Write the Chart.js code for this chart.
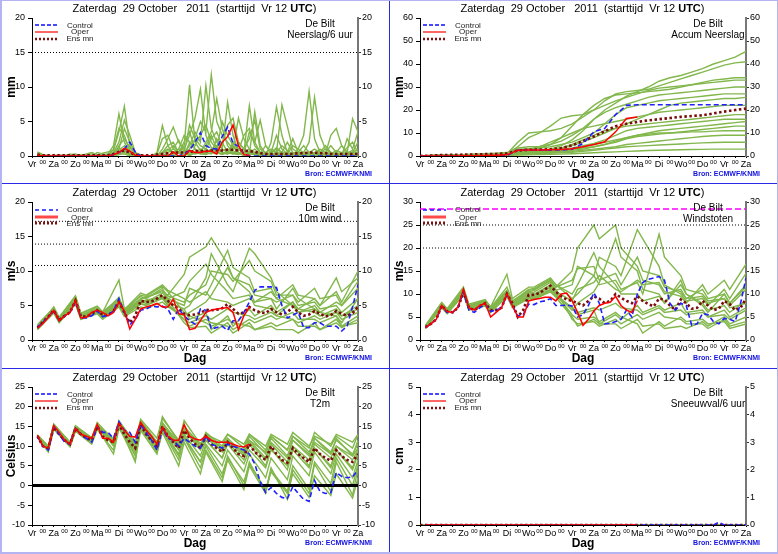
<!DOCTYPE html>
<html>
<head>
<meta charset="utf-8">
<script src="https://cdn.jsdelivr.net/npm/chart.js@4.4.0/dist/chart.umd.min.js"></script>
<style>
  body { margin: 0; background: #fff; }
  #frame { position: relative; width: 778px; height: 554px; overflow: hidden; font-family: "Liberation Sans", Arial, sans-serif; }
  .panel { position: absolute; width: 389px; height: 184px; }
  .panel canvas { position: absolute; left: 0; top: 0; }
  .ttl { position: absolute; left: 0; top: 2px; width: 389px; text-align: center; font-size: 11px; line-height: 13px; white-space: pre; color: #000; }
  .place { position: absolute; left: 270px; top: 18px; width: 100px; text-align: center; font-size: 10px; line-height: 11px; color: #000; white-space: nowrap; }
  .bron { position: absolute; left: 290px; top: 170px; width: 82px; text-align: right; font-size: 7px; line-height: 8px; font-weight: bold; color: #1010e0; white-space: nowrap; }
  .lgtxt { position: absolute; left: 60px; width: 40px; text-align: center; font-size: 8px; line-height: 9px; color: #222; white-space: nowrap; }
  .lgline { position: absolute; left: 35px; }
  .vline { position: absolute; top: 0; width: 1px; height: 554px; background: #2a2ae6; }
  .hline { position: absolute; left: 0; width: 778px; height: 1px; background: #2a2ae6; }
  #border { position: absolute; left: 0; top: 0; width: 778px; height: 554px; box-sizing: border-box; border: 1px solid #b4b4f2; border-left-width: 2px; border-bottom-width: 2px; }
</style>
</head>
<body>
<div id="frame"></div>
<script>
// ---- axis / categories ----
const titleText = 'Zaterdag  29 October   2011  (starttijd  Vr 12 <b>UTC</b>)';
const dayLabels = ['Vr', 'Za', 'Zo', 'Ma', 'Di', 'Wo', 'Do', 'Vr', 'Za', 'Zo', 'Ma', 'Di', 'Wo', 'Do', 'Vr', 'Za'];
const xTickLabels = [];
dayLabels.forEach((d, i) => {
  xTickLabels.push(d);
  if (i < dayLabels.length - 1) xTickLabels.push('00');
});

// forecast hours (start Vr 12 UTC)
const hours6 = [6,12,18,24,30,36,42,48,54,60,66,72,78,84,90,96,102,108,114,120,126,132,138,144,150,156,162,168,174,180,186,192,198,204,210,216,222,228,234,240,246,252,258,264,270,276,282,288,294,300,306,312,318,324,330,336,342,348,354,360];
const hours12 = [0,12,24,36,48,60,72,84,96,108,120,132,144,156,168,180,192,204,216,228,240,252,264,276,288,300,312,324,336,348,360];
const tempMemberHours = [6,18,24,42,48,66,72,90,96,114,120,138,144,162,168,186,192,210,216,234,240,258,264,282,288,306,312,330,336,354,360];
const windMemberHours = [6,24,30,48,54,72,78,96,102,120,126,144,150,168,174,192,198,216,222,240,246,264,270,288,294,312,318,336,342,360];

// ---- Neerslag / 6 uur (mm) ----
const precipControl = [0,0,0,0,0,0,0,0,0,0, 0,0,0,0,0.2,0.5,1.0,2.0,0.6,0, 0,0,0,0,0,0,0,0.3,0.8,2.0, 3.4,1.5,1.1,1.0,2.8,4.2,1.8,1.4,0.3,0, 0,0,0,0,0,0,0,0,0,0, 0,0,0,0,0,0,0,0,0,0];
const precipOper = [0.1,0,0,0,0,0,0,0,0,0, 0,0,0,0,0.2,0.5,1.1,0.7,0.1,0, 0,0,0,0,0,0.6,0,0,0.8,0.5, 0.5,0.7,0.7,0.3,2.0,2.8,4.5,1.5,0.2,0.1];
const precipMean = [0.2,0.1,0.1,0.1,0.1,0.1,0.1,0.1,0.1,0.1, 0.1,0.1,0.1,0.1,0.3,0.6,0.8,0.5,0.2,0.1, 0.1,0.1,0.2,0.3,0.4,0.5,0.5,0.5,0.6,0.7, 0.7,0.7,0.8,0.8,0.8,0.9,0.9,0.8,0.8,0.7, 0.6,0.4,0.3,0.3,0.3,0.3,0.3,0.3,0.4,0.4, 0.5,0.5,0.4,0.4,0.3,0.3,0.3,0.3,0.3,0.3];
const precipMembers = [
  [0.6,0.2,0,0,0,0.1,0,0,0,0, 0,0,0.2,0.3,1.5,6.1,2.0,0.5,0,0, 0,0,0.5,4.4,1.5,0.3,0.5,1.5,10.3,2.0, 0.8,1.5,3.0,1.0,0.5,0.3,0.8,2.0,1.0,0.5, 0.3,0,0,0.5,1.2,0.5,0,0,0.3,0.5, 0.2,0,0,0,0.3,0.8,0.5,0.2,0,0],
  [0.3,0,0,0.1,0,0,0,0,0.2,0, 0,0,0.4,0.6,0.8,3.5,7.2,1.5,0.3,0, 0,0,0,1.0,2.5,4.2,2.0,1.0,3.0,5.5, 9.7,3.0,1.2,0.8,2.0,0.5,0.5,1.0,0.5,7.3, 2.0,0.5,0.3,0,0.5,1.5,0.8,0.3,0,0, 0.5,1.0,0.5,0,0,0,0.3,1.2,2.0,0.5],
  [0,0,0.1,0,0,0,0.3,0,0,0, 0,0,0,0,0.5,2.0,5.2,3.0,0.5,0.2, 0,0,0,0,0.5,1.0,2.3,0.5,1.5,3.5, 2.0,10.2,4.0,2.0,1.0,7.8,3.0,0.5,0,0.2, 6.4,1.5,0.3,0,0,0.5,2.0,0.5,0.3,0, 0,0,0.5,1.5,0.5,0.3,0,0,0.2,0],
  [0.4,0,0,0,0.2,0,0,0,0,0.2, 0.3,0,0,0,1.0,4.0,3.0,0.8,0,0, 0,0,0,0.5,1.5,2.0,0.5,0.5,4.5,2.5, 5.0,3.5,11.8,5.0,3.0,2.0,1.0,5.5,2.5,1.0, 0.5,0.2,0,2.0,7.1,3.0,0.5,0,0,0.3, 0.5,0.2,0,0,0,0.5,1.5,0.5,0.3,0.2],
  [0,0,0,0,0,0,0,0.2,0,0, 0,0.5,0.3,0,0.2,1.5,2.5,1.2,0.3,0, 0,0,0,0,0,0.5,1.0,3.0,2.0,1.0, 0.5,2.0,3.5,8.3,4.0,1.5,0.5,0.3,1.0,2.5, 5.2,1.0,0.5,0.2,0.5,7.4,4.3,1.0,0.5,0.2, 0.3,0.5,0.3,0,0,0,0,0.5,5.4,3.5],
  [0.2,0,0,0,0,0,0,0,0,0, 0,0,0,0.2,0.5,1.0,4.0,2.0,0.5,0, 0,0,0.3,2.5,3.0,1.0,0.5,0,2.0,1.5, 3.0,4.5,2.0,1.0,5.0,3.0,1.5,0.5,0.3,0.5, 1.0,0.3,0,0,0.5,0.3,0.2,0,1.0,3.0, 9.4,2.5,0.5,0.2,0,0,0.3,0.2,0.5,1.0],
  [0,0.2,0,0,0,0,0,0,0,0, 0,0,0,0,0.3,0.8,1.5,0.5,0,0, 0,0,0,0.5,1.0,0.5,0,0.5,1.0,2.5, 1.5,1.0,2.5,3.5,1.5,4.5,5.5,2.0,1.0,0.5, 0.3,0,0.5,1.0,0.5,0.3,0,0.5,0.3,0.5, 2.0,8.5,3.0,1.0,0.5,0.3,0,0,0.5,0.2],
  [0.3,0,0,0,0,0,0,0,0,0, 0,0,0,0,0,0.5,1.0,0.3,0,0, 0,0,0,0,0,0,0.5,2.0,3.5,1.0, 0.5,0.3,1.0,0.5,0.3,0.5,1.5,0.5,0.3,3.5, 2.0,5.2,1.5,0.5,0,0,0,0.5,0.3,0.5, 0.3,0.2,0.5,0.3,3.0,4.0,1.5,0.5,0.3,0.5],
  [0,0,0,0,0,0,0.2,0.3,0,0, 0,0,0,0.3,0.5,1.2,0.8,0.3,0,0, 0,0,0,0,0,0.3,1.0,0.5,0,0.5, 1.0,0.5,0.3,2.5,1.0,0.5,0.3,0.8,3.0,4.0, 1.5,0.5,0.2,0.5,1.0,0.5,0.3,1.5,1.0,0.5, 0,0,0.5,1.0,0.5,0,0,2.5,1.0,3.5],
  [0.5,0,0,0,0,0,0,0,0,0, 0,0,0,0,0.3,0.5,0.8,0.5,0,0, 0,0,0,0,0.3,0,0,0.3,0.5,0.3, 0.5,1.0,0.5,0.3,0.8,1.0,0.5,0.3,0.5,1.0, 0.5,0.3,1.5,0.5,0,0.3,0.5,2.5,0.5,0.3, 0.5,0.3,0,0.3,0.5,0.3,0.5,0.3,0.5,2.0],
  [0,0,0,0,0,0,0,0,0,0, 0,0,0,0,0,0.3,0.5,0.2,0,0, 0,0,0,0,0,0,0,0,0.5,1.0, 0.3,0.5,1.0,0.5,0.2,0.5,0.3,0.2,0.5,0.3, 0.2,0.5,0.3,0.5,3.0,1.0,0.3,0,0,0.2, 0.5,0.3,0.2,0.5,1.5,0.5,0.2,0.3,0.2,0.5],
  [0.2,0,0,0,0,0,0,0,0,0.3, 0.5,0.2,0,0,0,0.2,0.3,0,0,0, 0,0,0,0.3,0.8,1.5,0.5,0.3,0.2,0.5, 0.3,0.2,0.5,1.5,0.5,0.3,2.0,1.0,0.5,0.3, 0.2,0.3,0.2,0.3,0.5,0.3,0.2,0.3,0.5,1.5, 0.5,0.3,1.0,0.5,0.3,0.2,0.3,0.5,0.8,0.3]
];

// ---- Accum neerslag (mm), 12-hourly ----
const accumControl = [0,0,0,0,0,0,0,0,0.2,2.5,2.6,2.6,2.6,2.6,3.0,5.5,10.5,12.0,18.0,22.0,22.3,22.3,22.3,22.3,22.3,22.3,22.3,22.3,22.3,22.3,22.3];
const accumOper = [0,0,0,0,0.1,0.1,0.2,0.3,0.5,2.5,2.6,2.6,2.7,2.8,3.2,4.0,5.0,6.2,10.5,16.3,17.0];
const accumMean = [0,0.2,0.4,0.5,0.6,0.7,0.8,0.9,1.1,2.4,2.7,2.8,2.9,3.5,4.6,6.5,8.5,10.8,12.9,14.0,14.8,15.5,16.0,16.5,17.0,17.4,17.7,18.5,19.3,20.0,20.6];
const accumMembers = [
  [0,0.2,0.3,0.5,0.6,0.8,1.0,1.2,1.5,3.5,4.0,4.2,5.0,6.5,9.0,12.0,16.0,20.0,23.0,26.0,28.0,30.0,32.5,34.0,35.0,36.5,38.0,40.0,41.5,43.0,45.5],
  [0,0.1,0.2,0.3,0.4,0.5,0.7,0.9,1.2,4.0,8.0,10.0,13.0,16.5,17.5,18.0,20.0,24.0,27.0,28.0,28.5,29.0,30.5,32.0,33.5,35.0,36.5,38.0,39.5,40.5,41.0],
  [0,0.2,0.4,0.5,0.6,0.8,0.9,1.0,1.2,2.5,3.0,3.5,5.0,8.0,13.0,18.0,22.0,25.0,26.5,27.0,27.5,28.0,28.5,29.0,30.0,31.0,32.0,33.0,33.5,34.0,34.0],
  [0,0.1,0.2,0.3,0.4,0.5,0.6,0.8,1.0,6.0,10.0,10.5,11.0,12.0,14.0,17.0,20.0,22.0,24.0,25.5,27.0,28.5,29.5,30.0,30.5,31.0,31.5,32.0,32.5,33.0,33.0],
  [0,0.1,0.2,0.3,0.4,0.5,0.7,0.8,1.0,2.0,2.3,2.5,3.0,4.5,7.0,11.0,16.0,19.0,21.0,22.5,24.0,25.5,26.5,27.0,27.5,28.0,28.5,29.0,29.5,30.0,30.0],
  [0,0.2,0.3,0.4,0.5,0.6,0.7,0.9,1.1,3.0,3.2,3.5,4.0,5.0,6.0,8.0,10.0,14.0,18.0,21.0,22.0,23.0,24.0,24.5,25.0,25.5,26.0,26.5,27.0,27.0,27.0],
  [0,0.1,0.2,0.3,0.4,0.5,0.6,0.7,0.8,2.0,2.2,2.5,3.0,3.5,4.5,6.0,8.0,10.0,12.0,14.0,16.0,18.0,20.0,22.0,23.0,23.5,24.0,24.5,25.0,25.0,25.5],
  [0,0.1,0.2,0.3,0.3,0.4,0.5,0.6,0.8,2.5,3.0,4.0,6.0,8.0,10.0,12.0,13.0,14.0,15.0,16.0,17.0,18.0,19.0,19.5,20.0,20.5,21.0,21.5,22.0,22.0,22.0],
  [0,0.1,0.2,0.2,0.3,0.4,0.5,0.6,0.7,1.5,1.8,2.0,2.5,3.5,5.0,7.0,9.0,11.0,12.0,13.0,13.5,14.0,14.5,15.0,15.5,16.0,16.5,17.0,17.5,18.0,18.0],
  [0,0.1,0.1,0.2,0.3,0.3,0.4,0.5,0.6,1.8,2.0,2.2,2.5,3.0,3.5,4.5,5.5,7.0,9.0,11.0,12.0,12.5,13.0,13.5,14.0,14.5,15.0,15.5,16.0,16.0,16.0],
  [0,0.1,0.2,0.2,0.3,0.4,0.5,0.5,0.6,1.2,1.4,1.6,2.0,2.5,3.0,4.0,5.0,6.0,7.0,8.0,9.0,10.0,11.0,11.5,12.0,12.5,13.0,13.5,14.0,14.5,15.0],
  [0,0.1,0.1,0.2,0.2,0.3,0.4,0.5,0.5,1.0,1.2,1.5,1.8,2.0,2.5,3.0,4.0,5.0,6.0,7.5,8.5,9.0,9.5,10.0,10.5,11.0,11.5,12.0,12.5,13.0,13.0],
  [0,0.1,0.1,0.2,0.2,0.3,0.3,0.4,0.5,1.5,1.8,2.0,2.2,2.5,3.0,3.5,4.0,5.0,6.5,8.0,9.0,9.5,10.0,10.0,10.2,10.5,10.5,10.8,11.0,11.0,11.0],
  [0,0.1,0.1,0.1,0.2,0.2,0.3,0.3,0.4,0.8,1.0,1.2,1.5,1.8,2.0,2.5,3.0,3.5,4.0,5.0,5.5,6.0,6.5,7.0,7.5,8.0,8.5,8.8,9.0,9.0,9.0],
  [0,0,0.1,0.1,0.1,0.2,0.2,0.3,0.3,0.6,0.8,1.0,1.2,1.4,1.6,2.0,2.5,3.0,3.5,4.0,4.3,4.5,4.8,5.0,5.2,5.5,5.7,5.9,6.0,6.0,6.0],
  [0,0,0.1,0.1,0.1,0.1,0.2,0.2,0.2,0.4,0.5,0.6,0.7,0.8,1.0,1.2,1.4,1.6,1.8,2.0,2.2,2.4,2.5,2.6,2.7,2.8,2.9,3.0,3.0,3.0,3.0]
];

// ---- 10m wind (m/s) ----
const windControl = [1.8,2.6,3.3,4.3,2.8,3.5,4.0,5.6,3.2,3.2, 3.5,4.2,3.4,3.6,4.2,6.0,4.0,2.2,3.0,4.3, 4.5,4.9,4.8,4.9,4.5,3.0,4.5,3.5,2.8,2.3, 4.5,4.3,1.6,1.8,2.0,1.4,2.8,2.8,4.0,5.5, 7.2,7.7,7.7,7.7,7.6,5.0,3.2,3.6,4.0,1.8, 1.8,2.5,2.5,2.0,2.0,2.0,1.3,2.0,4.8,8.0];
const windOper = [1.7,2.4,3.3,4.3,2.8,3.5,4.0,5.7,3.2,3.3, 4.0,4.3,4.0,3.5,4.0,5.5,4.2,1.6,3.0,4.5, 4.8,5.0,5.3,4.8,4.8,5.9,3.8,3.7,1.5,1.7, 2.8,4.0,4.3,4.5,4.6,4.7,4.0,1.5,3.5,4.8];
const windMean = [1.8,2.6,3.4,4.3,2.9,3.5,4.0,5.7,3.4,3.4, 3.8,4.3,3.6,3.6,4.2,5.5,4.0,2.5,3.5,5.7, 5.5,5.6,6.0,6.5,5.7,5.0,4.5,3.8,3.6,3.7, 3.9,4.4,4.3,4.4,4.6,5.2,4.5,3.8,4.0,4.8, 4.3,4.0,3.9,4.5,4.0,3.7,4.0,4.8,4.0,3.5, 3.7,4.2,3.8,3.4,3.6,4.2,3.8,3.5,3.9,4.8];
const windLevels = [10.8, 13.9, 17.2];
const windMembers = [
  [1.8, 4.5,3.0, 6.0,3.5, 4.5,3.8, 6.2,4.2, 6.0,6.2, 7.0,6.5, 9.5,12.0, 13.5,14.8, 11.0,9.0, 8.0,6.5, 6.0,5.5, 6.5,5.0, 5.5,4.5, 5.0,4.0, 6.0],
  [2.0, 4.0,2.7, 5.5,3.2, 4.0,3.2, 5.0,3.8, 5.5,5.8, 6.2,5.5, 4.5,5.0, 9.0,12.5, 8.0,7.0, 13.3,12.5, 9.0,7.0, 5.0,4.0, 4.5,4.0, 5.5,5.0, 7.5],
  [1.6, 4.8,3.2, 6.3,3.8, 4.8,4.0, 8.7,4.5, 6.3,6.0, 7.5,6.0, 5.0,7.5, 6.5,8.0, 13.0,10.5, 9.0,7.0, 7.5,6.0, 5.0,4.5, 6.0,5.0, 7.0,5.5, 10.0],
  [1.9, 4.2,2.6, 5.3,3.0, 4.2,3.4, 5.3,3.5, 5.2,5.0, 6.0,5.0, 3.0,2.5, 3.5,3.0, 4.5,4.0, 3.5,3.0, 4.0,3.5, 3.0,2.5, 3.5,3.0, 4.0,3.5, 5.0],
  [1.7, 4.3,2.9, 5.8,3.3, 4.4,3.6, 5.6,4.0, 5.8,5.5, 6.8,6.0, 7.0,8.5, 11.0,9.5, 7.0,6.0, 6.5,5.0, 4.5,3.5, 5.5,4.5, 4.0,3.5, 4.5,3.5, 4.5],
  [2.1, 4.6,3.1, 6.2,3.6, 4.6,3.8, 5.8,4.2, 6.5,6.3, 7.8,7.0, 4.0,3.5, 2.5,2.0, 3.0,2.5, 2.0,1.5, 2.5,2.0, 3.0,2.0, 2.0,1.5, 2.5,1.8, 3.0],
  [1.5, 3.9,2.5, 5.2,3.0, 3.8,3.0, 4.8,3.4, 4.8,4.6, 5.5,4.8, 3.5,4.0, 5.5,6.5, 10.5,9.0, 7.0,5.5, 6.0,4.5, 7.5,6.0, 4.5,3.5, 4.0,3.0, 4.0],
  [1.8, 4.4,2.8, 5.9,3.4, 4.3,3.5, 5.4,3.9, 5.6,5.3, 6.4,5.8, 2.5,1.8, 2.0,1.0, 2.5,1.5, 3.0,2.5, 3.5,3.0, 4.0,3.0, 3.0,2.5, 3.5,2.0, 2.5],
  [2.2, 4.7,3.3, 6.4,3.9, 4.9,4.1, 6.0,4.4, 6.8,6.5, 8.0,7.2, 6.0,5.5, 7.0,6.0, 5.5,5.0, 6.0,5.5, 7.0,6.0, 8.0,6.5, 6.0,5.0, 9.0,7.0, 9.0],
  [1.7, 4.1,2.8, 5.6,3.1, 4.1,3.3, 5.2,3.7, 5.4,5.6, 6.3,5.4, 4.5,3.0, 4.0,1.5, 3.5,2.0, 4.5,3.5, 5.0,4.0, 5.5,4.0, 5.0,4.0, 3.5,2.5, 6.0],
  [1.9, 4.3,3.0, 5.7,3.4, 4.5,3.7, 5.5,4.1, 5.9,6.1, 7.2,6.4, 5.5,6.5, 8.0,10.0, 9.5,8.5, 11.5,10.0, 8.5,6.5, 6.5,5.5, 7.5,6.0, 6.5,5.0, 8.5],
  [1.6, 4.0,2.6, 5.4,3.1, 4.0,3.3, 5.1,3.6, 5.3,5.1, 6.1,5.2, 3.0,2.0, 3.0,2.5, 2.0,1.0, 2.5,1.5, 2.0,1.5, 1.5,1.0, 2.5,1.5, 3.0,2.0, 3.5]
];

// ---- Windstoten (m/s) ----
const gustControl = [2.7,3.5,4.5,7.3,6.0,6.0,7.0,10.5,6.5,6.0, 7.0,7.8,6.2,6.5,7.0,9.8,7.5,5.2,5.5,7.8, 7.7,8.3,8.5,9.0,7.5,7.5,7.6,7.4,5.0,5.5, 7.5,10.3,8.0,3.5,3.6,4.0,4.5,6.5,5.0,10.0, 12.5,13.2,13.5,13.8,13.0,8.0,6.5,8.0,7.5,3.2, 3.5,5.8,5.5,4.0,3.5,4.7,4.5,4.0,8.0,13.5];
const gustOper = [2.7,3.5,4.5,7.5,6.2,6.0,7.2,11.0,7.0,6.5, 7.5,8.0,5.0,6.0,7.0,10.0,7.5,5.0,5.0,8.5, 8.8,9.0,9.3,9.3,8.5,10.0,10.2,8.5,6.0,3.2, 4.5,6.3,7.5,8.0,8.2,9.5,7.5,6.5,6.0,8.6];
const gustMean = [2.8,3.5,4.5,7.5,6.2,6.0,7.0,10.5,7.0,6.5, 7.3,8.0,6.5,6.5,7.0,10.0,8.0,5.0,6.5,9.8, 9.8,10.2,11.0,11.8,10.5,9.5,8.8,8.5,8.0,7.5, 8.5,9.5,9.0,8.0,8.5,10.0,9.2,8.5,8.0,9.5, 8.5,7.8,7.3,9.0,8.8,7.5,6.5,8.8,8.0,6.8, 7.0,8.5,7.5,6.5,6.8,8.5,7.8,6.5,7.0,9.0];
const gustLevels = [20, 25];
const gustAlarm = 28.5;
const gustMembers = [
  [2.9, 7.8,6.5, 11.0,7.5, 8.5,7.0, 11.5,8.5, 10.5,10.8, 13.0,11.5, 15.0,20.0, 25.0,22.0, 25.0,20.0, 16.0,13.0, 12.0,10.0, 11.0,9.0, 9.5,8.0, 9.0,7.5, 11.0],
  [3.2, 8.2,6.8, 11.5,7.8, 8.8,7.2, 14.3,9.0, 11.5,11.5, 13.5,12.0, 9.0,10.0, 14.0,18.0, 16.0,14.0, 24.0,22.0, 16.0,12.0, 10.0,8.5, 9.0,7.5, 11.0,9.0, 14.5],
  [2.5, 7.2,5.8, 10.0,6.5, 7.5,6.0, 9.5,7.0, 9.0,9.0, 10.5,9.5, 7.0,6.0, 7.0,6.5, 8.0,7.0, 6.5,5.5, 7.0,6.0, 6.5,5.5, 6.0,5.0, 6.5,5.0, 7.0],
  [2.8, 7.6,6.3, 10.7,7.2, 8.2,6.6, 10.3,8.0, 10.0,10.0, 12.0,10.8, 12.0,16.0, 14.0,12.0, 13.0,11.0, 12.5,10.0, 23.0,18.0, 14.0,11.0, 10.0,8.5, 9.0,7.0, 8.0],
  [2.6, 7.4,6.0, 10.3,6.8, 7.8,6.4, 9.8,7.6, 9.5,9.6, 11.5,10.0, 5.5,4.5, 5.0,4.0, 6.0,5.0, 3.5,1.5, 4.0,3.0, 5.0,4.0, 4.5,3.5, 4.0,2.5, 3.5],
  [3.0, 7.9,6.5, 11.2,7.4, 8.6,7.0, 10.8,8.4, 11.0,11.2, 13.3,12.0, 10.0,12.0, 19.0,16.0, 12.0,10.0, 10.0,8.5, 9.5,8.0, 12.0,10.0, 8.0,6.5, 7.5,6.0, 8.5],
  [2.7, 7.3,5.9, 10.2,6.9, 7.8,6.3, 10.0,7.8, 9.3,9.3, 11.0,10.0, 6.5,8.0, 10.5,12.5, 22.0,18.0, 15.0,11.0, 10.0,8.0, 13.0,10.0, 7.5,6.0, 10.0,8.0, 12.0],
  [3.1, 8.0,6.6, 10.9,7.3, 8.3,6.8, 10.5,8.2, 10.3,10.4, 12.5,11.0, 4.5,3.5, 4.0,3.0, 4.5,3.5, 5.5,4.5, 6.0,5.0, 4.5,3.5, 3.5,2.5, 4.5,3.0, 4.0],
  [2.9, 7.5,6.2, 10.6,7.1, 8.0,6.5, 10.2,8.0, 9.8,9.8, 11.8,10.5, 8.5,11.0, 12.5,14.0, 11.0,10.5, 13.0,12.0, 12.5,10.5, 9.5,8.0, 12.0,10.0, 13.0,11.0, 16.5],
  [2.6, 7.2,5.9, 10.1,6.8, 7.6,6.2, 9.7,7.5, 9.2,9.0, 10.8,9.8, 7.0,5.5, 6.5,3.5, 5.5,4.5, 7.5,6.0, 7.5,6.5, 8.0,6.0, 6.5,5.0, 5.5,4.5, 6.5],
  [3.0, 7.7,6.4, 10.8,7.5, 8.4,6.9, 10.6,8.3, 10.8,11.0, 12.8,11.5, 13.0,15.5, 16.0,13.0, 14.5,12.0, 18.0,15.0, 14.0,11.5, 10.5,9.0, 11.0,9.0, 10.0,8.0, 11.5],
  [2.5, 7.0,5.7, 9.8,6.6, 7.4,6.0, 9.5,7.3, 9.0,8.8, 10.5,9.3, 5.0,3.0, 4.5,3.5, 3.5,2.5, 4.5,3.0, 3.5,2.5, 3.0,2.5, 4.0,3.0, 5.0,3.5, 5.0]
];

// ---- T2m (Celsius) ----
const tempControl = [12.5,10.0,9.0,15.0, 13.0,11.0,10.5,14.5, 13.0,12.0,11.0,15.0, 13.5,13.5,12.0,16.2, 14.0,13.5,11.0,15.5, 13.5,11.5,9.0,14.5, 12.0,11.5,10.0,12.0, 11.0,10.0,9.5,12.5, 10.5,10.0,9.5,10.5, 10.0,9.5,9.0,8.0, 5.5,1.0,-1.8,-0.5, -2.0,-3.0,-3.3,-0.3, -2.0,-3.5,-4.0,1.3, -1.5,-2.0,-1.8,3.3, 2.3,2.0,2.2,4.0];
const tempOper = [12.8,10.0,9.5,15.2, 13.5,11.5,10.5,14.5, 13.0,12.5,12.0,15.5, 12.0,12.0,11.0,15.8, 14.0,12.5,12.3,16.0, 14.0,12.5,10.5,14.8, 12.5,11.5,11.5,15.5, 12.5,11.8,11.5,12.5, 11.5,11.0,11.0,11.0, 10.5,10.0,9.8,10.5];
const tempMean = [12.5,10,9.5,14.8, 13,11.5,10.5,14.5, 13,12,11.5,15, 12.5,11.5,11,15.5, 13,11,9.5,15.5, 13,11.5,10,15, 12.5,11,9.5,14, 12,10.5,9.5,12.5, 10.5,9.5,8.5,11, 9.5,8,7.5,10.5, 8.5,7.5,6.5,10, 8,6.5,5.8,9.5, 8,7,6,9.5, 8,7,6.3,9, 7.5,6.5,6,8];
const tempMembers = [
  [12.8, 9.8,15.5, 10.8,15.0, 12.0,15.8, 11.5,16.5, 10.5,16.5, 11.0,17.5, 11.0,16.5, 10.5,13.5, 10.0,13.0, 9.5,13.0, 9.0,12.5, 9.0,12.5, 9.5,13.5, 10.0,12.5, 9.5,13.0],
  [12.3, 9.0,14.5, 10.0,14.0, 11.0,14.5, 10.5,15.0, 8.5,14.5, 9.0,14.5, 8.0,12.5, 6.0,10.0, 3.0,7.0, 1.0,5.5, -1.0,3.5, -2.0,3.0, -3.0,2.5, -2.5,3.0, -3.2,2.0],
  [12.6, 9.6,15.0, 10.5,14.8, 11.8,15.2, 11.0,15.8, 9.5,16.0, 10.0,15.5, 9.5,14.5, 9.5,12.5, 8.5,11.5, 7.5,11.0, 6.5,10.5, 6.0,10.0, 6.5,10.5, 7.0,10.0, 6.5,9.0],
  [12.4, 9.2,14.6, 10.2,14.3, 11.2,14.8, 10.8,15.2, 7.5,15.0, 9.5,15.0, 10.0,14.0, 10.0,12.0, 9.0,11.5, 8.5,12.5, 8.0,12.0, 7.5,11.5, 8.0,12.0, 8.5,11.5, 8.0,10.5],
  [12.7, 9.7,15.2, 10.7,14.7, 11.6,15.4, 10.0,15.6, 6.0,15.0, 8.5,14.0, 7.5,12.0, 6.0,10.5, 5.0,9.0, 3.5,8.0, 2.0,7.0, 1.5,7.5, 2.5,8.5, 3.0,8.0, 2.0,6.5],
  [12.5, 9.5,14.9, 10.4,14.6, 11.4,15.0, 10.9,15.4, 9.8,15.8, 10.5,15.2, 10.5,13.5, 10.5,12.0, 9.5,11.0, 9.0,11.5, 8.5,12.5, 9.0,12.5, 8.5,11.0, 8.0,10.0, 7.5,9.5],
  [12.2, 8.5,14.3, 9.8,13.8, 10.5,14.2, 9.0,14.8, 6.5,14.0, 8.0,14.0, 6.5,12.0, 4.5,9.0, 2.0,7.5, 0.0,6.0, -1.5,4.5, -3.5,4.0, -2.0,5.5, -1.5,6.0, -2.5,4.5],
  [12.9, 10.0,15.6, 11.0,15.2, 12.0,16.0, 11.5,16.0, 10.0,16.5, 10.5,16.0, 10.0,14.0, 9.0,11.5, 7.0,10.5, 5.5,9.0, 4.5,9.0, 5.0,10.0, 5.0,9.5, 4.5,9.0, 4.0,8.0],
  [12.4, 9.3,14.7, 10.3,14.4, 11.3,14.9, 10.6,15.0, 9.0,15.3, 10.0,14.8, 9.0,13.0, 7.5,11.5, 7.0,11.0, 6.5,10.5, 5.0,9.5, 4.0,9.0, 4.5,9.5, 5.0,9.0, 4.5,8.5],
  [12.6, 9.4,15.1, 10.6,14.9, 11.7,15.3, 11.2,15.7, 10.2,16.2, 11.0,15.8, 11.0,14.5, 10.5,13.0, 11.0,13.0, 10.5,13.0, 10.0,13.0, 10.5,13.5, 10.0,12.5, 10.5,13.0, 11.0,13.0],
  [12.3, 9.1,14.4, 10.1,14.2, 11.0,14.6, 8.0,14.5, 8.0,14.8, 8.5,13.5, 5.0,11.0, 3.0,8.5, 1.0,6.5, -1.0,5.0, -2.0,4.0, -1.5,5.0, -1.0,6.0, 0.5,7.0, 0.0,5.5],
  [12.7, 9.9,15.3, 10.9,15.1, 12.2,15.6, 11.8,16.2, 11.0,16.8, 12.0,17.0, 11.5,15.0, 10.5,13.0, 9.5,12.0, 8.0,11.5, 7.0,11.0, 7.0,11.5, 7.5,12.0, 8.0,12.0, 7.5,11.5]
];

// ---- Sneeuwval / 6 uur (cm) ----
const snowControl = [0,0,0,0,0,0,0,0,0,0, 0,0,0,0,0,0,0,0,0,0, 0,0,0,0,0,0,0,0,0,0, 0,0,0,0,0,0,0,0,0,0, 0,0,0,0,0,0,0,0,0,0, 0,0,0,0,0.1,0,0,0,0,0];
const snowOper = [0,0,0,0,0,0,0,0,0,0, 0,0,0,0,0,0,0,0,0,0, 0,0,0,0,0,0,0,0,0,0, 0,0,0,0,0,0,0,0,0,0];
const snowMean = [0,0,0,0,0,0,0,0,0,0,0,0,0,0,0,0,0,0,0,0,0,0,0,0,0,0,0,0,0,0,0];
const snowMembers = [
  [0,0,0,0,0,0,0,0,0,0,0,0,0,0,0,0,0,0,0,0,0,0,0,0,0,0,0,0,0,0,0],
  [0,0,0,0,0,0,0,0,0,0,0,0,0,0,0,0,0,0,0,0,0,0,0,0,0,0,0,0,0,0,0]
];

// ---- panels ----
const operHours = hours6.slice(0, 40);
const panels = [
  { left: 0, top: 0, unit: 'mm', place: 'Neerslag/6 uur', min: 0, max: 20, step: 5, legend: 'thin',
    members: precipMembers, memberHours: hours6, control: precipControl, controlHours: hours6,
    oper: precipOper, operHours: operHours, mean: precipMean, meanHours: hours6,
    refs: [{ y: 15, kind: 'dot' }] },
  { left: 388, top: 0, unit: 'mm', place: 'Accum Neerslag', min: 0, max: 60, step: 10, legend: 'thin',
    members: accumMembers, memberHours: hours12, control: accumControl, controlHours: hours12,
    oper: accumOper, operHours: hours12, mean: accumMean, meanHours: hours12, refs: [] },
  { left: 0, top: 184, unit: 'm/s', place: '10m wind', min: 0, max: 20, step: 5, legend: 'wind',
    members: windMembers, memberHours: windMemberHours, control: windControl, controlHours: hours6,
    oper: windOper, operHours: operHours, mean: windMean, meanHours: hours6,
    refs: windLevels.map(y => ({ y, kind: 'dot' })) },
  { left: 388, top: 184, unit: 'm/s', place: 'Windstoten', min: 0, max: 30, step: 5, legend: 'wind',
    members: gustMembers, memberHours: windMemberHours, control: gustControl, controlHours: hours6,
    oper: gustOper, operHours: operHours, mean: gustMean, meanHours: hours6,
    refs: gustLevels.map(y => ({ y, kind: 'dot' })).concat([{ y: gustAlarm, kind: 'alarm' }]) },
  { left: 0, top: 369, unit: 'Celsius', place: 'T2m', min: -10, max: 25, step: 5, legend: 'thin',
    members: tempMembers, memberHours: tempMemberHours, control: tempControl, controlHours: hours6,
    oper: tempOper, operHours: operHours, mean: tempMean, meanHours: hours6,
    refs: [{ y: 0, kind: 'zero' }] },
  { left: 388, top: 369, unit: 'cm', place: 'Sneeuwval/6 uur', min: 0, max: 5, step: 1, legend: 'thin',
    members: snowMembers, memberHours: hours12, control: snowControl, controlHours: hours6,
    oper: snowOper, operHours: operHours, mean: snowMean, meanHours: hours12, refs: [] }
];

const memberColor = '#82b74c';
const refStyles = {
  dot: { borderColor: '#000', borderWidth: 1, borderDash: [1, 2] },
  alarm: { borderColor: '#ff00ff', borderWidth: 1.5, borderDash: [6, 3] },
  zero: { borderColor: '#000', borderWidth: 3 }
};
const legendStyles = {
  thin: [
    { color: '#4848ff', width: 2, dash: '4 2' },
    { color: '#ff0000', width: 1.2, dash: '' },
    { color: '#801010', width: 2.5, dash: '2 2' }
  ],
  wind: [
    { color: '#1a1aff', width: 1.5, dash: '4 3' },
    { color: '#ff4a4a', width: 3, dash: '' },
    { color: '#801010', width: 3, dash: '2 2' }
  ]
};
const legendNames = ['Control', 'Oper', 'Ens mn'];

function xy(hours, vals) {
  return vals.map((v, i) => ({ x: hours[i], y: v }));
}

function line(data, extra) {
  return Object.assign({ data, pointRadius: 0, borderWidth: 1, tension: 0, fill: false }, extra);
}

const frame = document.getElementById('frame');

panels.forEach((p, n) => {
  const div = document.createElement('div');
  div.className = 'panel';
  div.style.left = p.left + 'px';
  div.style.top = p.top + 'px';
  const canvas = document.createElement('canvas');
  canvas.width = 389;
  canvas.height = 184;
  div.appendChild(canvas);

  // title, place, source
  let html = '<div class="ttl">' + titleText + '</div>';
  html += '<div class="place">De Bilt<br>' + p.place + '</div>';
  html += '<div class="bron">Bron:  ECMWF/KNMI</div>';
  const rows = p.legend === 'wind' ? [25.7, 33, 39.3] : [25, 31.7, 38.5];
  legendStyles[p.legend].forEach((s, i) => {
    html += '<svg class="lgline" width="23" height="6" style="top:' + (rows[i] - 3) + 'px">' +
      '<line x1="0" y1="3" x2="23" y2="3" stroke="' + s.color + '" stroke-width="' + s.width + '"' +
      (s.dash ? ' stroke-dasharray="' + s.dash + '"' : '') + '/></svg>';
    html += '<div class="lgtxt" style="top:' + (rows[i] - 4.5) + 'px">' + legendNames[i] + '</div>';
  });
  div.insertAdjacentHTML('beforeend', html);
  frame.appendChild(div);

  // first dataset is drawn on top
  const datasets = [];
  datasets.push(line(xy(p.operHours, p.oper), { borderColor: '#ff0000', borderWidth: 1.5 }));
  datasets.push(line(xy(p.controlHours, p.control), { borderColor: '#2020ff', borderWidth: 1.6, borderDash: [5, 3] }));
  datasets.push(line(xy(p.meanHours, p.mean), { borderColor: '#7a0c0c', borderWidth: 2.6, borderDash: [2.5, 2.5] }));
  p.refs.forEach(r => datasets.push(line([{ x: 0, y: r.y }, { x: 360, y: r.y }], refStyles[r.kind])));
  p.members.forEach(m => datasets.push(line(xy(p.memberHours, m), { borderColor: memberColor, borderWidth: 1.4 })));

  const yTicks = { stepSize: p.step, color: '#000', font: { size: 9 } };
  new Chart(canvas, {
    type: 'line',
    data: { datasets },
    options: {
      responsive: false,
      animation: false,
      events: [],
      layout: { padding: { top: 18, left: 0, right: 0, bottom: 0 } },
      plugins: { legend: { display: false }, tooltip: { enabled: false }, title: { display: false } },
      scales: {
        x: {
          type: 'linear', min: 0, max: 360,
          border: { color: '#000', width: 1 },
          grid: { drawOnChartArea: false, tickLength: 2, color: '#000' },
          ticks: {
            stepSize: 12, autoSkip: false, maxRotation: 0, minRotation: 0, padding: 1, color: '#000',
            font: (c) => (c.index % 2 ? { size: 6 } : { size: 9 }),
            callback: (v) => xTickLabels[Math.round(v / 12)]
          },
          title: { display: true, text: 'Dag', color: '#000', font: { size: 12, weight: 'bold' }, padding: { top: 0, bottom: 2 } },
          afterFit: (s) => { s.height = 28; }
        },
        y: {
          position: 'left', min: p.min, max: p.max,
          border: { color: '#000', width: 1 },
          grid: { drawOnChartArea: false, tickLength: 4, color: '#000' },
          ticks: yTicks,
          title: { display: true, text: p.unit, color: '#000', font: { size: 12, weight: 'bold' }, padding: { top: 4, bottom: 0 } },
          afterFit: (s) => { s.width = 32; }
        },
        y2: {
          position: 'right', min: p.min, max: p.max,
          border: { color: '#777', width: 2 },
          grid: { drawOnChartArea: false, tickLength: 3, color: '#333' },
          ticks: Object.assign({}, yTicks, { padding: 1 }),
          afterFit: (s) => { s.width = 31; }
        }
      }
    }
  });
});

// panel dividers and outer frame
frame.insertAdjacentHTML('beforeend',
  '<div class="vline" style="left:389px"></div>' +
  '<div class="hline" style="top:183px"></div>' +
  '<div class="hline" style="top:368px"></div>' +
  '<div id="border"></div>');
</script>
</body>
</html>
